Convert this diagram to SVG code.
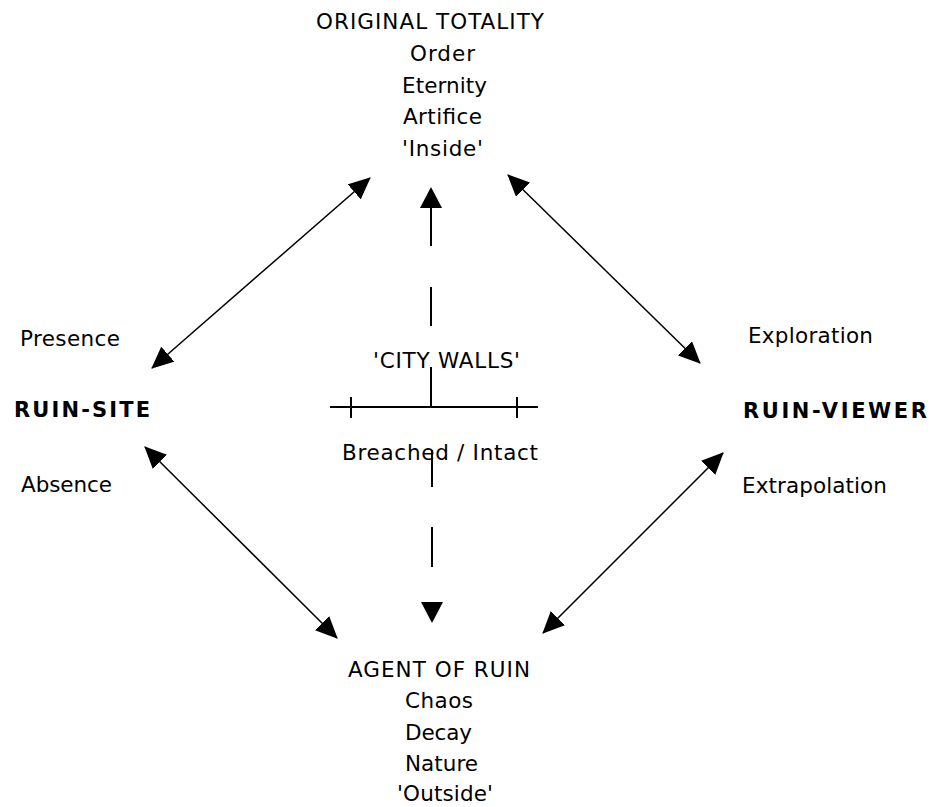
<svg xmlns="http://www.w3.org/2000/svg" width="930" height="807" viewBox="0 0 930 807">
<style>
text{font-family:"DejaVu Sans","Liberation Sans",sans-serif;font-size:21.5px;fill:#000}
.b{font-weight:bold;font-size:21px}
.ln{stroke:#000;stroke-width:1.5;fill:none}
.vl{stroke:#000;stroke-width:2;fill:none}
</style>
<defs>
<marker id="ah" viewBox="0 0 22 20" refX="21" refY="10" markerWidth="22" markerHeight="20" markerUnits="userSpaceOnUse" orient="auto-start-reverse">
<path d="M0,0 L22,10 L0,20 Z" fill="#000"/>
</marker>
</defs>
<rect width="930" height="807" fill="#fff"/>
<g id="original-totality">
<text x="316" y="29" textLength="228" lengthAdjust="spacing">ORIGINAL TOTALITY</text>
<text x="410" y="61" textLength="65" lengthAdjust="spacing">Order</text>
<text x="402" y="93" textLength="85" lengthAdjust="spacing">Eternity</text>
<text x="403" y="124" textLength="79" lengthAdjust="spacing">Artifice</text>
<text x="402" y="156" textLength="81" lengthAdjust="spacing">'Inside'</text>
</g>
<g id="ruin-site">
<text x="20" y="346" textLength="100" lengthAdjust="spacing">Presence</text>
<text class="b" x="14" y="417" textLength="136" lengthAdjust="spacing">RUIN-SITE</text>
<text x="21" y="492" textLength="91" lengthAdjust="spacing">Absence</text>
</g>
<g id="ruin-viewer">
<text x="748" y="343" textLength="125" lengthAdjust="spacing">Exploration</text>
<text class="b" x="743" y="418" textLength="184" lengthAdjust="spacing">RUIN-VIEWER</text>
<text x="742" y="493" textLength="145" lengthAdjust="spacing">Extrapolation</text>
</g>
<g id="city-walls">
<text x="373" y="368" textLength="147" lengthAdjust="spacing">'CITY WALLS'</text>
<path class="vl" d="M330,407 H538 M351,397 V418 M517,397 V418 M431,367 V407"/>
<text x="342" y="460" textLength="196" lengthAdjust="spacing">Breached / Intact</text>
</g>
<g id="agent-of-ruin">
<text x="348" y="677" textLength="182" lengthAdjust="spacing">AGENT OF RUIN</text>
<text x="405" y="708" textLength="68" lengthAdjust="spacing">Chaos</text>
<text x="405" y="740" textLength="67" lengthAdjust="spacing">Decay</text>
<text x="405" y="771" textLength="73" lengthAdjust="spacing">Nature</text>
<text x="397" y="801" textLength="96" lengthAdjust="spacing">'Outside'</text>
</g>
<g id="connectors">
<line class="ln" x1="152" y1="368" x2="370" y2="178" marker-start="url(#ah)" marker-end="url(#ah)"/>
<line class="ln" x1="508" y1="175" x2="700" y2="363" marker-start="url(#ah)" marker-end="url(#ah)"/>
<line class="ln" x1="145" y1="447" x2="337" y2="638" marker-start="url(#ah)" marker-end="url(#ah)"/>
<line class="ln" x1="723" y1="453" x2="543" y2="633" marker-start="url(#ah)" marker-end="url(#ah)"/>
<path class="vl" d="M431,207 V246 M431,287 V326"/>
<path d="M431,187 L442,208 L420,208 Z" fill="#000"/>
<path class="vl" d="M432,450 V487 M432,527 V567"/>
<path d="M432,623 L443,602 L421,602 Z" fill="#000"/>
</g>
</svg>
